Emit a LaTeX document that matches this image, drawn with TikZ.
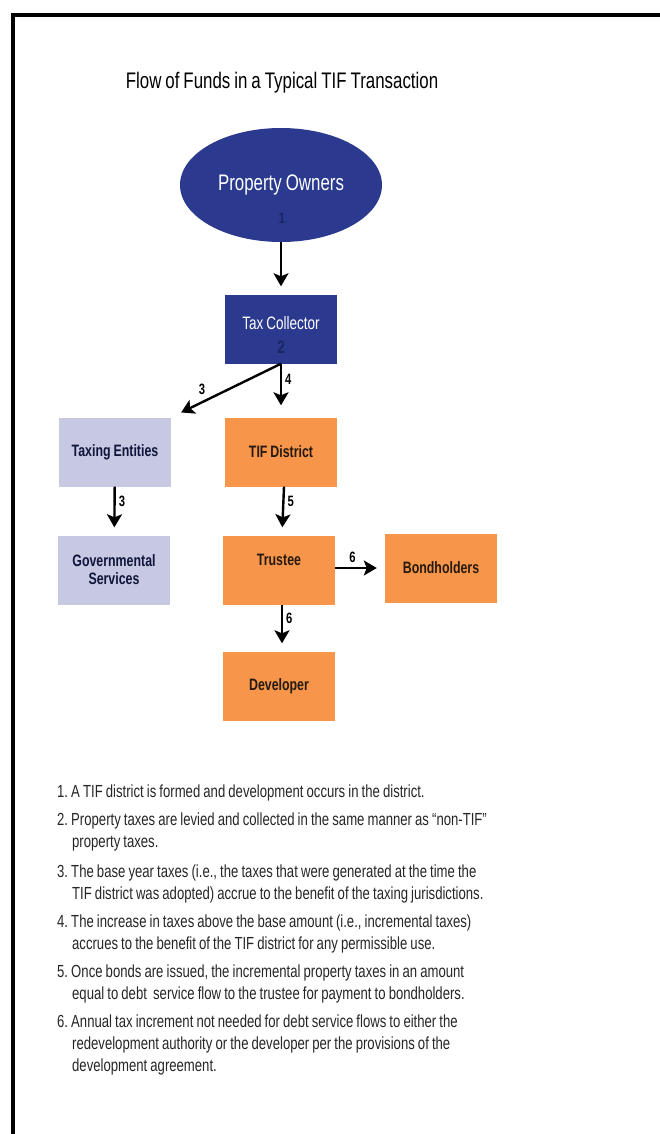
\documentclass[tikz,border=0pt]{standalone}
\usepackage{fontspec}
\setmainfont{Liberation Sans}[FakeStretch=0.75, WordSpace=0.85]
\usetikzlibrary{shapes.geometric,arrows.meta,positioning}

\definecolor{ownerblue}{HTML}{2B3A8E}
\definecolor{darkblue}{HTML}{1B2563}
\definecolor{tiforange}{HTML}{F7964B}
\definecolor{lavender}{HTML}{C7C8E2}
\definecolor{notegray}{HTML}{262626}

\frenchspacing
\begin{document}
\begin{tikzpicture}[x=1pt, y=-1pt,
    box/.style={rectangle, minimum width=112pt, minimum height=69pt, inner sep=0pt,
      align=center, font=\bfseries\fontsize{16.5}{18}\selectfont},
    orangebox/.style={box, fill=tiforange, text=black!80!brown},
    greybox/.style={box, fill=lavender, text=darkblue!60!black},
    flow/.style={-{Stealth[length=13pt, width=15pt, inset=3pt]}, line width=2.4pt, shorten >=8pt},
    num/.style={font=\bfseries\fontsize{15}{16}\selectfont, inner sep=1pt},
    note/.style={anchor=base west, text width=560pt, align=left, inner sep=0pt,
      text=notegray, font=\fontsize{17.5}{22}\selectfont,
      execute at begin node={\spaceskip=0pt \xspaceskip=0pt}}
  ]
    \useasboundingbox (0,0) rectangle (660,1134);

    % Frame
    \draw[line width=4pt] (660,15) -- (13,15) -- (13,1134);

    % Title
    \node[font=\fontsize{22.5}{26}\selectfont] (title) at (282,83)
      {Flow of Funds in a Typical TIF Transaction};

    % Top of the flow
    \node[ellipse, fill=ownerblue, text=white, minimum width=202pt, minimum height=114pt,
      inner sep=0pt, font=\fontsize{22.5}{26}\selectfont] (owners) at (281,185) {Property Owners};
    \node[num, text=darkblue] (n1) at (282,218) {1};

    \node[box, fill=ownerblue, text=white, text depth=12pt, font=\fontsize{18}{20}\selectfont]
      (collector) at (281,329) {Tax Collector};
    \node[num, text=darkblue, font=\bfseries\fontsize{18}{20}\selectfont] (n2) at (281,347) {2};

    % Left branch
    \node[greybox] (entities) at (115,452) {Taxing Entities};
    \node[greybox] (services) at (114,570) {Governmental\\Services};

    % Right branch
    \node[orangebox] (district) at (281,452) {TIF District};
    \node[orangebox, text depth=20pt] (trustee) at (279,570) {Trustee};
    \node[orangebox] (bonds) at (441,568) {Bondholders};
    \node[orangebox] (developer) at (279,686) {Developer};

    % Connections
    \draw[flow] (owners) -- (collector);
    \draw[flow, shorten >=11pt] (collector.south) -- node[num, pos=0.72, above=5pt] {3} (entities.north east);
    \draw[flow, shorten >=12pt] (collector.south) -- node[num, pos=0.3, right=2pt] {4} (district.north);
    \draw[flow] (entities) -- node[num, pos=0.3, right=2pt] {3} (services);
    \draw[flow] ([xshift=3pt]district.south) -- node[num, pos=0.3, right=2pt] {5} ([xshift=3pt]trustee.north);
    \draw[flow] (trustee.east |- bonds) -- node[num, pos=0.35, above=3pt] {6} (bonds.west);
    \draw[flow] ([xshift=3pt]trustee.south) -- node[num, pos=0.3, right=2pt] {6} ([xshift=3pt]developer.north);

    % Notes
    \node[note] (note1) at (57,797) {1. A TIF district is formed and development occurs in the district.};
    \node[note] (note2) at (57,825)
      {2. Property taxes are levied and collected in the same manner as “non-TIF”\\\hspace*{15pt}property taxes.};
    \node[note] (note3) at (57,877)
      {3. The base year taxes (i.e., the taxes that were generated at the time the\\\hspace*{15pt}TIF district was adopted) accrue to the benefit of the taxing jurisdictions.};
    \node[note] (note4) at (57,927)
      {4. The increase in taxes above the base amount (i.e., incremental taxes)\\\hspace*{15pt}accrues to the benefit of the TIF district for any permissible use.};
    \node[note] (note5) at (57,977)
      {5. Once bonds are issued, the incremental property taxes in an amount\\\hspace*{15pt}equal to debt\ \ service flow to the trustee for payment to bondholders.};
    \node[note] (note6) at (57,1027)
      {6. Annual tax increment not needed for debt service flows to either the\\\hspace*{15pt}redevelopment authority or the developer per the provisions of the\\\hspace*{15pt}development agreement.};

  \end{tikzpicture}
\end{document}
